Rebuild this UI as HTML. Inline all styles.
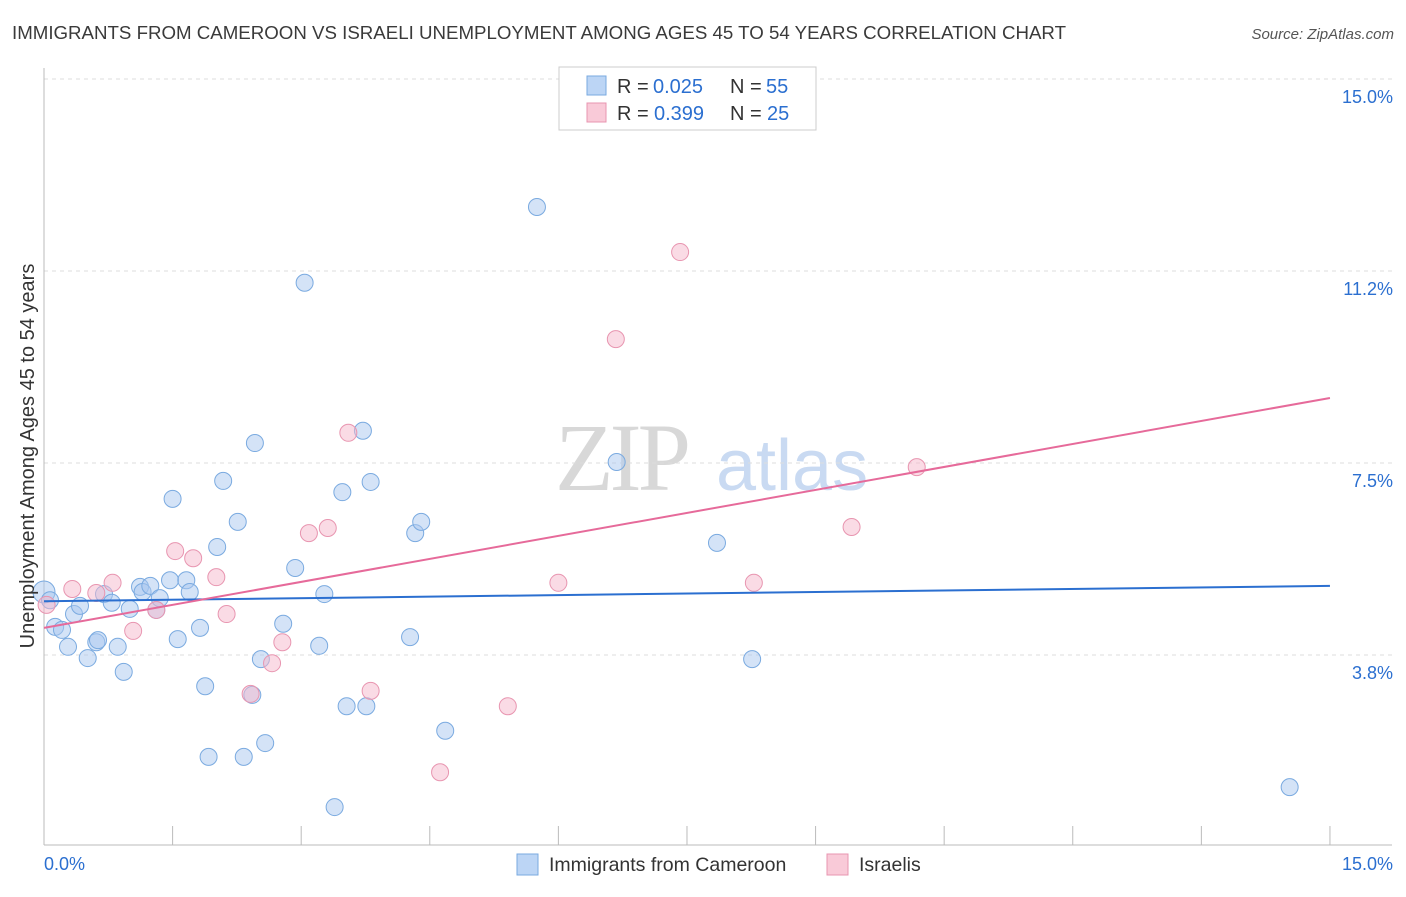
<!DOCTYPE html>
<html><head><meta charset="utf-8"><style>
body{margin:0;background:#fff;font-family:"Liberation Sans",sans-serif}
</style></head><body>
<svg id="chart" width="1406" height="892" xmlns="http://www.w3.org/2000/svg" font-family="Liberation Sans, sans-serif">
<text x="12" y="39" font-size="18.7" fill="#3a3a3a">IMMIGRANTS FROM CAMEROON VS ISRAELI UNEMPLOYMENT AMONG AGES 45 TO 54 YEARS CORRELATION CHART</text>
<text x="1394" y="39" font-size="15" fill="#555" text-anchor="end" font-style="italic">Source: ZipAtlas.com</text>
<g>
<text x="555" y="490" font-size="96" fill="#d8d8d8" font-family="Liberation Serif, serif" letter-spacing="-4">ZIP</text>
<text x="716" y="490" font-size="72" fill="#c9daf2">atlas</text>
</g>
<g id="grid"></g><g id="axes"></g><g id="marks"></g>
<text transform="translate(34,456) rotate(-90)" font-size="20" fill="#333" text-anchor="middle">Unemployment Among Ages 45 to 54 years</text>
<g font-size="20">
<rect x="559" y="67" width="257" height="63" fill="#fff" stroke="#ccc"/>
<rect x="587" y="76" width="19" height="19" fill="#bcd5f5" stroke="#7aaae0"/>
<text x="617" y="93" fill="#333">R =</text><text x="653" y="93" fill="#2b6fd0">0.025</text>
<text x="730" y="93" fill="#333">N =</text><text x="766" y="93" fill="#2b6fd0">55</text>
<rect x="587" y="103" width="19" height="19" fill="#f9cad8" stroke="#e895b0"/>
<text x="617" y="120" fill="#333">R =</text><text x="654" y="120" fill="#2b6fd0">0.399</text>
<text x="730" y="120" fill="#333">N =</text><text x="767" y="120" fill="#2b6fd0">25</text>
</g>
<g>
<rect x="517" y="854" width="21" height="21" fill="#bcd5f5" stroke="#7aaae0"/>
<text x="549" y="871" font-size="19.5" fill="#333">Immigrants from Cameroon</text>
<rect x="827" y="854" width="21" height="21" fill="#f9cad8" stroke="#e895b0"/>
<text x="859" y="871" font-size="19.5" fill="#333">Israelis</text>
</g>
</svg>
<script>
const yTicks=[3.75,7.5,11.25,15];
const yTickLabels=["3.8%","7.5%","11.2%","15.0%"];
const blueX=[0.00,0.07,0.13,0.21,0.28,0.35,0.42,0.51,0.61,0.63,0.70,0.79,0.86,0.93,1.00,1.12,1.15,1.24,1.31,1.35,1.47,1.50,1.56,1.66,1.70,1.82,1.88,1.92,2.02,2.09,2.26,2.33,2.43,2.46,2.53,2.58,2.79,2.93,3.04,3.21,3.27,3.39,3.48,3.53,3.72,3.76,3.81,4.27,4.33,4.40,4.68,5.75,6.68,7.85,8.26,14.53];
const blueY=[4.98,4.82,4.30,4.24,3.91,4.55,4.71,3.69,4.00,4.04,4.94,4.77,3.91,3.42,4.65,5.08,4.98,5.10,4.63,4.86,5.21,6.80,4.06,5.21,4.98,4.28,3.14,1.76,5.86,7.15,6.35,1.76,2.97,7.89,3.67,2.03,4.36,5.45,11.02,3.93,4.94,0.78,6.93,2.75,8.13,2.75,7.13,4.10,6.13,6.35,2.27,12.50,7.52,5.94,3.67,1.17];
const pinkX=[0.03,0.33,0.61,0.80,1.04,1.31,1.53,1.74,2.01,2.13,2.41,2.66,2.78,3.09,3.31,3.55,3.81,4.62,5.41,6.00,6.67,7.42,8.28,9.42,10.18];
const pinkY=[4.73,5.04,4.96,5.16,4.22,4.63,5.78,5.64,5.27,4.55,2.99,3.59,4.00,6.13,6.23,8.09,3.05,1.46,2.75,5.16,9.92,11.62,5.16,6.25,7.42];
const blueTrend=[4.80,5.10];
const pinkTrend=[4.28,8.77];
const trendX=[0,15];
const NS="http://www.w3.org/2000/svg";
const xs=v=>44+v*85.73, ys=v=>847-v*51.2;
function mk(t,a,p){const e=document.createElementNS(NS,t);for(const k in a)e.setAttribute(k,a[k]);document.getElementById(p).appendChild(e);return e;}
yTicks.forEach((t,i)=>{
 const g=mk('line',{x1:44,x2:1392,y1:ys(t),y2:ys(t),stroke:'#ddd','stroke-dasharray':'4,4'},'grid');
 
 
 const l=mk('text',{x:1393,y:ys(t)+24,'font-size':18,fill:'#2b6fd0','text-anchor':'end'},'axes');
 l.textContent=yTickLabels[i];
 
 
});
const xa=mk('line',{x1:44,x2:1392,y1:845,y2:845,stroke:'#bbb'},'axes');


const ya=mk('line',{x1:44,x2:44,y1:68,y2:845,stroke:'#bbb'},'axes');


for(let i=0;i<=10;i++){const t=mk('line',{x1:xs(i*1.5),x2:xs(i*1.5),y1:826,y2:845,stroke:'#bbb'},'axes');
 
 }
const x0=mk('text',{x:44,y:870,'font-size':18,fill:'#2b6fd0'},'axes');x0.textContent='0.0%';


const x1=mk('text',{x:1393,y:870,'font-size':18,fill:'#2b6fd0','text-anchor':'end'},'axes');x1.textContent='15.0%';


blueX.forEach((v,i)=>{const c=mk('circle',{cx:xs(v),cy:ys(blueY[i]),r:i==0?11:8.5,fill:'rgba(169,200,240,0.5)',stroke:'#7aaae0','stroke-width':1},'marks');
 
 });
pinkX.forEach((v,i)=>{const c=mk('circle',{cx:xs(v),cy:ys(pinkY[i]),r:8.5,fill:'rgba(245,184,204,0.5)',stroke:'#e895b0','stroke-width':1},'marks');
 
 });
const bl=mk('line',{x1:xs(trendX[0]),x2:xs(trendX[1]),y1:ys(blueTrend[0]),y2:ys(blueTrend[1]),stroke:'#2b6fd0','stroke-width':2},'marks');


const pl=mk('line',{x1:xs(trendX[0]),x2:xs(trendX[1]),y1:ys(pinkTrend[0]),y2:ys(pinkTrend[1]),stroke:'#e66a9a','stroke-width':2},'marks');


</script>
</body></html>
